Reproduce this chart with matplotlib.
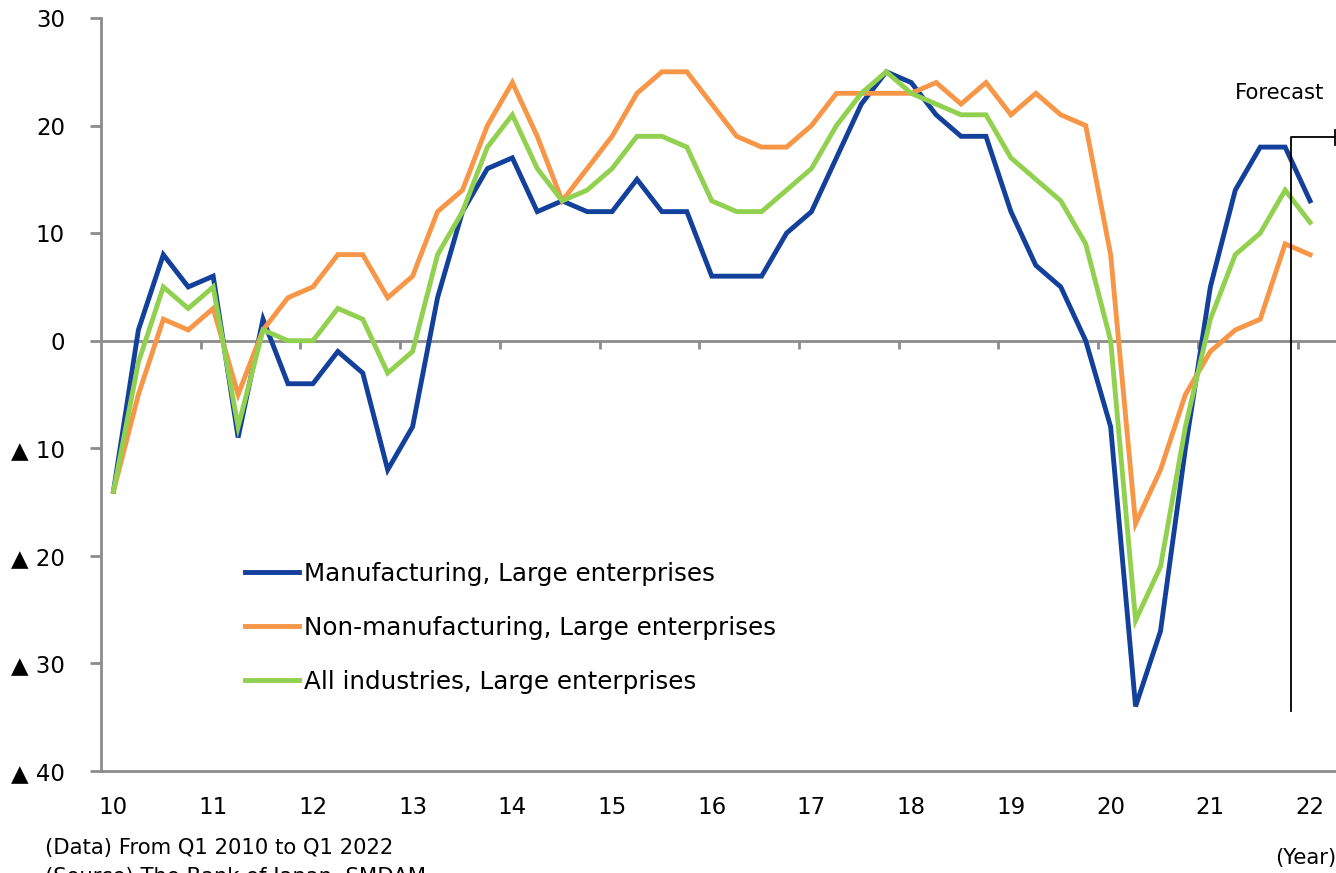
import matplotlib
matplotlib.use("Agg")
import matplotlib.pyplot as plt
import numpy as np

plt.rcParams['font.family'] = ['DejaVu Sans']

years = ["10", "11", "12", "13", "14", "15", "16", "17", "18", "19", "20", "21", "22"]
quarters = list(range(49))  # Q1 2010 .. Q1 2022

manufacturing = [-14, 1, 8, 5, 6, -9, 2, -4, -4, -1, -3, -12, -8, 4, 12, 16,
                 17, 12, 13, 12, 12, 15, 12, 12, 6, 6, 6, 10, 12, 17, 22, 25,
                 24, 21, 19, 19, 12, 7, 5, 0, -8, -34, -27, -10, 5, 14, 18, 18,
                 13]
non_manufacturing = [-14, -5, 2, 1, 3, -5, 1, 4, 5, 8, 8, 4, 6, 12, 14, 20,
                     24, 19, 13, 16, 19, 23, 25, 25, 22, 19, 18, 18, 20, 23, 23, 23,
                     23, 24, 22, 24, 21, 23, 21, 20, 8, -17, -12, -5, -1, 1, 2, 9,
                     8]
all_industries = [-14, -2, 5, 3, 5, -8, 1, 0, 0, 3, 2, -3, -1, 8, 12, 18,
                  21, 16, 13, 14, 16, 19, 19, 18, 13, 12, 12, 14, 16, 20, 23, 25,
                  23, 22, 21, 21, 17, 15, 13, 9, 0, -26, -21, -8, 2, 8, 10, 14,
                  11]

series_labels = ["Manufacturing, Large enterprises",
                 "Non-manufacturing, Large enterprises",
                 "All industries, Large enterprises"]
colors = ["#13409A", "#F79646", "#92D050"]

y_ticks = [30, 20, 10, 0, -10, -20, -30, -40]
y_tick_labels = ["30", "20", "10", "0", "▲ 10", "▲ 20", "▲ 30", "▲ 40"]

forecast_x = 47.23
forecast_top = 18.9
forecast_bottom = -34.4

fig = plt.figure(figsize=(13.36, 8.73), dpi=100)
ax = fig.add_axes([101 / 1336, 1 - 771 / 873, 1 - 101 / 1336, (771 - 18) / 873])

gray = "#8C8C8C"
ax.axhline(0, color=gray, lw=2, zorder=1)

for vals, lab, c in zip([manufacturing, non_manufacturing, all_industries], series_labels, colors):
    ax.plot(quarters, vals, color=c, lw=3.5, label=lab, zorder=3,
            solid_joinstyle='miter')

# category boundary tick marks on the zero line
boundaries = np.arange(3.5, 49, 4)
ax.vlines(boundaries, -0.75, 0, color=gray, lw=2, zorder=1)

ax.set_xlim(-0.5, 49.04)
ax.set_ylim(-40, 30)
ax.set_xticks(range(0, 49, 4))
ax.set_xticklabels(years, fontsize=16.5)
ax.tick_params(axis='x', length=0, pad=18)
ax.set_yticks(y_ticks)
ax.set_yticklabels(y_tick_labels, fontsize=16.5)
ax.tick_params(axis='y', length=8, width=2, color=gray, pad=18)

for s in ['top', 'right']:
    ax.spines[s].set_visible(False)
for s in ['left', 'bottom']:
    ax.spines[s].set_color(gray)
    ax.spines[s].set_linewidth(2)

# forecast bracket
ax.plot([forecast_x, forecast_x, 49.04], [forecast_bottom, forecast_top, forecast_top],
        color="black", lw=1.3, clip_on=False, zorder=4)
ax.plot([49.0, 49.0], [forecast_top - 0.7, forecast_top + 0.7], color="black", lw=1.3,
        clip_on=False, zorder=4)
ax.text(48.56, 23, "Forecast", ha='right', va='center', fontsize=15.2)

leg = ax.legend(loc='upper left', bbox_to_anchor=(0.1166, 0.278), frameon=False,
                fontsize=17.7, handlelength=2.2, handletextpad=0.22,
                labelspacing=1.22, borderpad=0, borderaxespad=0)

fig.text(45 / 1336, 1 - 848 / 873, "(Data) From Q1 2010 to Q1 2022", fontsize=15.2,
         ha='left', va='center')
fig.text(45 / 1336, 1 - 877 / 873, "(Source) The Bank of Japan, SMDAM", fontsize=15.2,
         ha='left', va='center')
fig.text(1336 / 1336, 1 - 858 / 873, "(Year)", fontsize=15.2, ha='right', va='center')

fig.savefig("out.png", dpi=100)
